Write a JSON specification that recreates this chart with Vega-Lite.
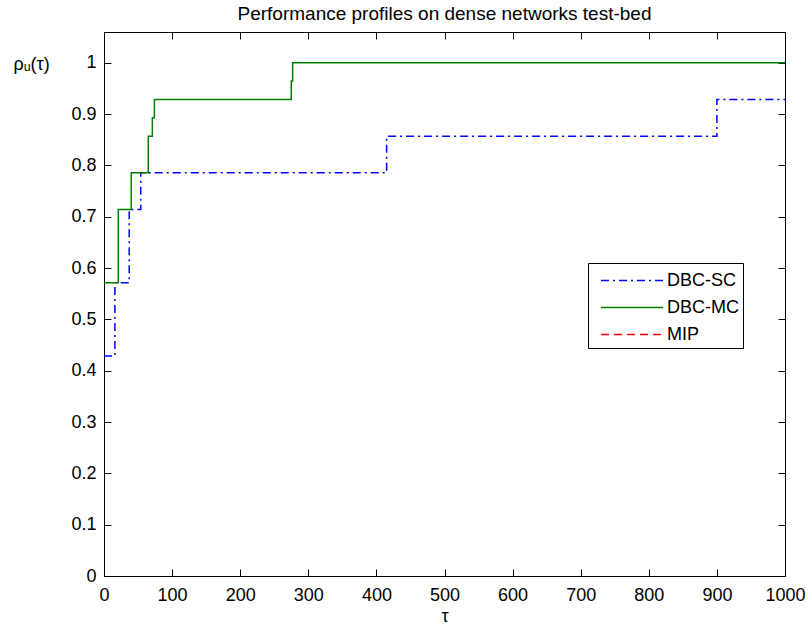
{
  "$schema": "https://vega.github.io/schema/vega-lite/v6.json",
  "width": 681,
  "height": 544,
  "autosize": {"type": "none"},
  "padding": {"left": 104, "top": 32, "right": 23, "bottom": 54},
  "background": "white",
  "config": {
    "font": "Liberation Sans",
    "view": {"stroke": "black", "strokeWidth": 1},
    "axis": {
      "domain": false,
      "grid": false,
      "labelFlush": false,
      "labelOverlap": false,
      "tickColor": "black",
      "tickSize": -7,
      "tickWidth": 1,
      "labelColor": "black",
      "labelFont": "Liberation Sans",
      "labelFontSize": 18,
      "titleFont": "Liberation Sans",
      "titleFontSize": 18,
      "titleFontWeight": "normal",
      "titleColor": "black"
    }
  },
  "title": {
    "text": "Performance profiles on dense networks test-bed",
    "fontSize": 19,
    "fontWeight": "normal",
    "font": "Liberation Sans",
    "color": "black",
    "anchor": "middle",
    "offset": 8
  },
  "data": {
    "values": [
      {"method": "DBC-SC", "tau": 0, "rho": 0.4286},
      {"method": "DBC-SC", "tau": 16, "rho": 0.5714},
      {"method": "DBC-SC", "tau": 37, "rho": 0.7143},
      {"method": "DBC-SC", "tau": 54, "rho": 0.7857},
      {"method": "DBC-SC", "tau": 415, "rho": 0.8571},
      {"method": "DBC-SC", "tau": 900, "rho": 0.9286},
      {"method": "DBC-SC", "tau": 1000, "rho": 0.9286},
      {"method": "DBC-MC", "tau": 0, "rho": 0.5714},
      {"method": "DBC-MC", "tau": 21, "rho": 0.7143},
      {"method": "DBC-MC", "tau": 40, "rho": 0.7857},
      {"method": "DBC-MC", "tau": 65, "rho": 0.8571},
      {"method": "DBC-MC", "tau": 71, "rho": 0.8929},
      {"method": "DBC-MC", "tau": 74, "rho": 0.9286},
      {"method": "DBC-MC", "tau": 275, "rho": 0.9643},
      {"method": "DBC-MC", "tau": 277, "rho": 1.0},
      {"method": "DBC-MC", "tau": 1000, "rho": 1.0}
    ]
  },
  "layer": [
    {
      "mark": {"type": "line", "interpolate": "step-after", "strokeWidth": 1.5, "clip": true},
      "encoding": {
        "x": {
          "field": "tau", "type": "quantitative",
          "scale": {"domain": [0, 1000], "nice": false, "zero": false},
          "axis": {"orient": "bottom", "values": [0,100,200,300,400,500,600,700,800,900,1000], "format": "d", "labelPadding": 17, "title": "τ", "titlePadding": 3}
        },
        "y": {
          "field": "rho", "type": "quantitative",
          "scale": {"domain": [0, 1.06], "nice": false, "zero": false},
          "axis": {"orient": "left", "values": [0,0.1,0.2,0.3,0.4,0.5,0.6,0.7,0.8,0.9,1], "format": ".1~f", "labelPadding": 15, "title": "ρᵤ(τ)", "titleAngle": 0, "titleAlign": "left", "titleBaseline": "middle", "titleX": -91, "titleY": 32}
        },
        "color": {
          "field": "method", "type": "nominal",
          "scale": {"domain": ["DBC-SC", "DBC-MC", "MIP"], "range": ["#0000FF", "#008000", "#FF0000"]},
          "legend": {
            "title": null,
            "orient": "none",
            "legendX": 484,
            "legendY": 231,
            "strokeColor": "black",
            "fillColor": "white",
            "padding": 4,
            "symbolType": "M-0.36,0H4.6",
            "symbolSize": 625,
            "symbolStrokeWidth": 1.5,
            "rowPadding": 4,
            "labelOffset": 48,
            "labelFontSize": 18,
            "labelFont": "Liberation Sans",
            "labelColor": "black"
          }
        },
        "strokeDash": {
          "field": "method", "type": "nominal",
          "scale": {"domain": ["DBC-SC", "DBC-MC", "MIP"], "range": [[8, 4, 2, 4], [1, 0], [8, 5]]},
          "legend": null
        },
        "order": {"field": "tau", "type": "quantitative"}
      }
    },
    {
      "mark": {"type": "point", "opacity": 0},
      "encoding": {
        "x": {
          "field": "tau", "type": "quantitative",
          "axis": {"orient": "top", "values": [0,100,200,300,400,500,600,700,800,900,1000], "labels": false, "title": null}
        },
        "y": {
          "field": "rho", "type": "quantitative",
          "axis": {"orient": "right", "values": [0,0.1,0.2,0.3,0.4,0.5,0.6,0.7,0.8,0.9,1], "labels": false, "title": null}
        }
      }
    }
  ],
  "resolve": {"axis": {"x": "independent", "y": "independent"}}
}
